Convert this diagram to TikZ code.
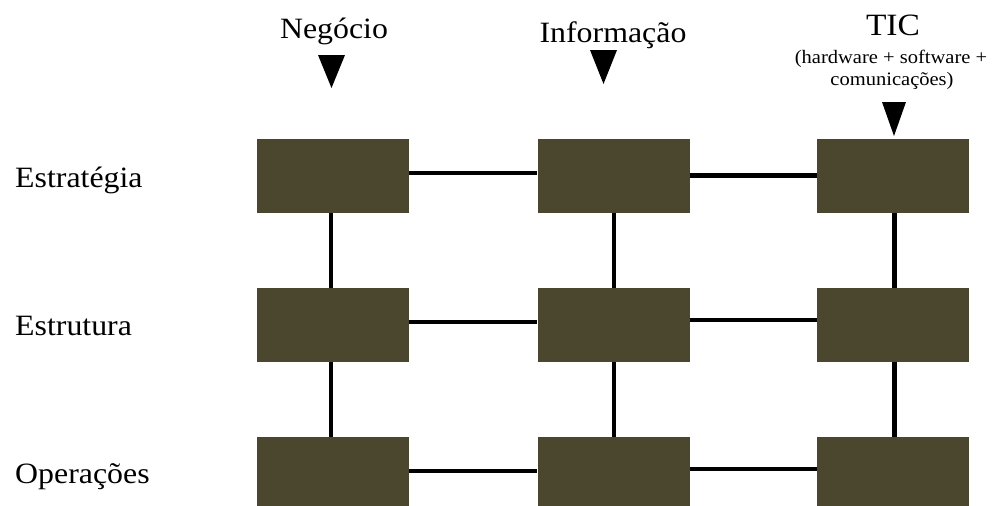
\documentclass[tikz,border=0pt]{standalone}
\usepackage{fontspec}
\setmainfont[FakeStretch=1.08]{Liberation Serif}
\definecolor{boxcol}{RGB}{75,70,46}
\tikzset{
  cell/.style={fill=boxcol, minimum width=152pt, minimum height=74pt, inner sep=0pt, draw=none},
  conn/.style={line width=4.5pt, black},
  big/.style={font=\fontsize{29.5}{34}\selectfont, inner sep=0pt, anchor=base},
  small/.style={font=\fontsize{19}{22}\selectfont, inner sep=0pt, anchor=base},
  rowlab/.style={font=\fontsize{29.5}{34}\selectfont, inner sep=0pt, anchor=base west},
  tri/.style={fill=black}
}
\begin{document}
\begin{tikzpicture}[x=1pt,y=-1pt]
\useasboundingbox (0,0) rectangle (997,506);
\begin{scope}
\clip (0,0) rectangle (997,506);
% column headers
\node[big] (hneg) at (334,38) {Negócio};
\node[big] (hinf) at (613,42) {Informação};
\node[big,font=\fontsize{31}{36}\selectfont] (htic) at (893,35) {TIC};
\node[small] (htica) at (891,63) {(hardware + software +};
\node[small] (hticb) at (892,85) {comunicações)};
% triangles
\fill[tri] (318,55) -- (345,55) -- (331.5,88) -- cycle;
\fill[tri] (590,50) -- (617,50) -- (603.5,84) -- cycle;
\fill[tri] (882,102) -- (906,102) -- (894,136) -- cycle;
% row labels
\node[rowlab] (lest) at (15,187) {Estratégia};
\node[rowlab] (lstr) at (15,335) {Estrutura};
\node[rowlab] (lop) at (15,483) {Operações};
% boxes
\node[cell] (a1) at (333,176) {};
\node[cell] (a2) at (613.5,176) {};
\node[cell] (a3) at (893,176) {};
\node[cell] (b1) at (333,325) {};
\node[cell] (b2) at (613.5,325) {};
\node[cell] (b3) at (893,325) {};
\node[cell] (c1) at (333,474) {};
\node[cell] (c2) at (613.5,474) {};
\node[cell] (c3) at (893,474) {};
% horizontal connectors
\draw[conn] ([yshift=3pt]a1.east) -- ([yshift=3pt]a2.west);
\draw[conn] ([yshift=0.5pt]a2.east) -- ([yshift=0.5pt]a3.west);
\draw[conn] ([yshift=3pt]b1.east) -- ([yshift=3pt]b2.west);
\draw[conn] ([yshift=5pt]b2.east) -- ([yshift=5pt]b3.west);
\draw[conn] ([yshift=3pt]c1.east) -- ([yshift=3pt]c2.west);
\draw[conn] ([yshift=5pt]c2.east) -- ([yshift=5pt]c3.west);
% vertical connectors
\draw[conn] ([xshift=-2pt]a1.south) -- ([xshift=-2pt]b1.north);
\draw[conn] ([xshift=-2pt]b1.south) -- ([xshift=-2pt]c1.north);
\draw[conn] ([xshift=0.5pt]a2.south) -- ([xshift=0.5pt]b2.north);
\draw[conn] ([xshift=0.5pt]b2.south) -- ([xshift=0.5pt]c2.north);
\draw[conn] ([xshift=1.5pt]a3.south) -- ([xshift=1.5pt]b3.north);
\draw[conn] ([xshift=1.5pt]b3.south) -- ([xshift=1.5pt]c3.north);
\end{scope}
\end{tikzpicture}
\end{document}
